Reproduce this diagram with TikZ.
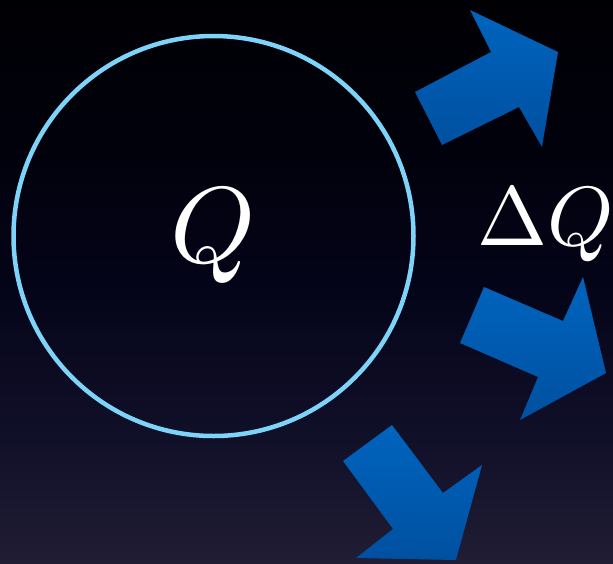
\documentclass[tikz,border=0pt]{standalone}
\usepackage{graphicx}
\definecolor{bgtop}{RGB}{0,0,4}
\definecolor{bgup}{RGB}{1,1,12}
\definecolor{bgmid}{RGB}{4,4,24}
\definecolor{bglow}{RGB}{16,15,40}
\definecolor{bgbot}{RGB}{32,29,52}
\definecolor{ringblue}{RGB}{125,212,248}
\definecolor{arrtop}{RGB}{0,100,190}
\definecolor{arrbot}{RGB}{0,80,160}
\pgfdeclareverticalshading{bgshade}{100bp}{color(0bp)=(bgbot); color(25bp)=(bgbot); color(37bp)=(bglow); color(50bp)=(bgmid); color(62bp)=(bgup); color(75bp)=(bgtop); color(100bp)=(bgtop)}
\tikzset{
  blockarrow/.style={top color=arrtop, bottom color=arrbot, draw=none},
  ring/.style={circle, draw=ringblue, line width=4.5pt, minimum size=400pt, inner sep=0pt},
  bigtext/.style={text=white, inner sep=0pt}
}
\begin{document}
\begin{tikzpicture}[x=1pt,y=-1pt]
\useasboundingbox (0,0) rectangle (613,563);
\shade[shading=bgshade] (0,0) rectangle (613,563);
\node[ring] (c) at (213.5,236) {};
\node[bigtext, anchor=base] (q) at (213,262) {\scalebox{10.8}{$Q$}};
\node[bigtext, anchor=base west] (dq) at (477,245) {\scalebox{8.4}{$\Delta Q$}};
% arrow 1 (upper right)
\shade[blockarrow] (415,92) -- (491,52) -- (470,10) -- (558,52) -- (542,147) -- (519,107) -- (442,145) -- cycle;
% arrow 2 (middle right)
\shade[blockarrow] (484,287) -- (563,321) -- (583,277) -- (606,373) -- (520,420) -- (538,377) -- (460,343) -- cycle;
% arrow 3 (bottom)
\shade[blockarrow] (392,425) -- (443,493) -- (482,465) -- (456,560) -- (356,558) -- (393,529) -- (343,461) -- cycle;
\end{tikzpicture}
\end{document}
